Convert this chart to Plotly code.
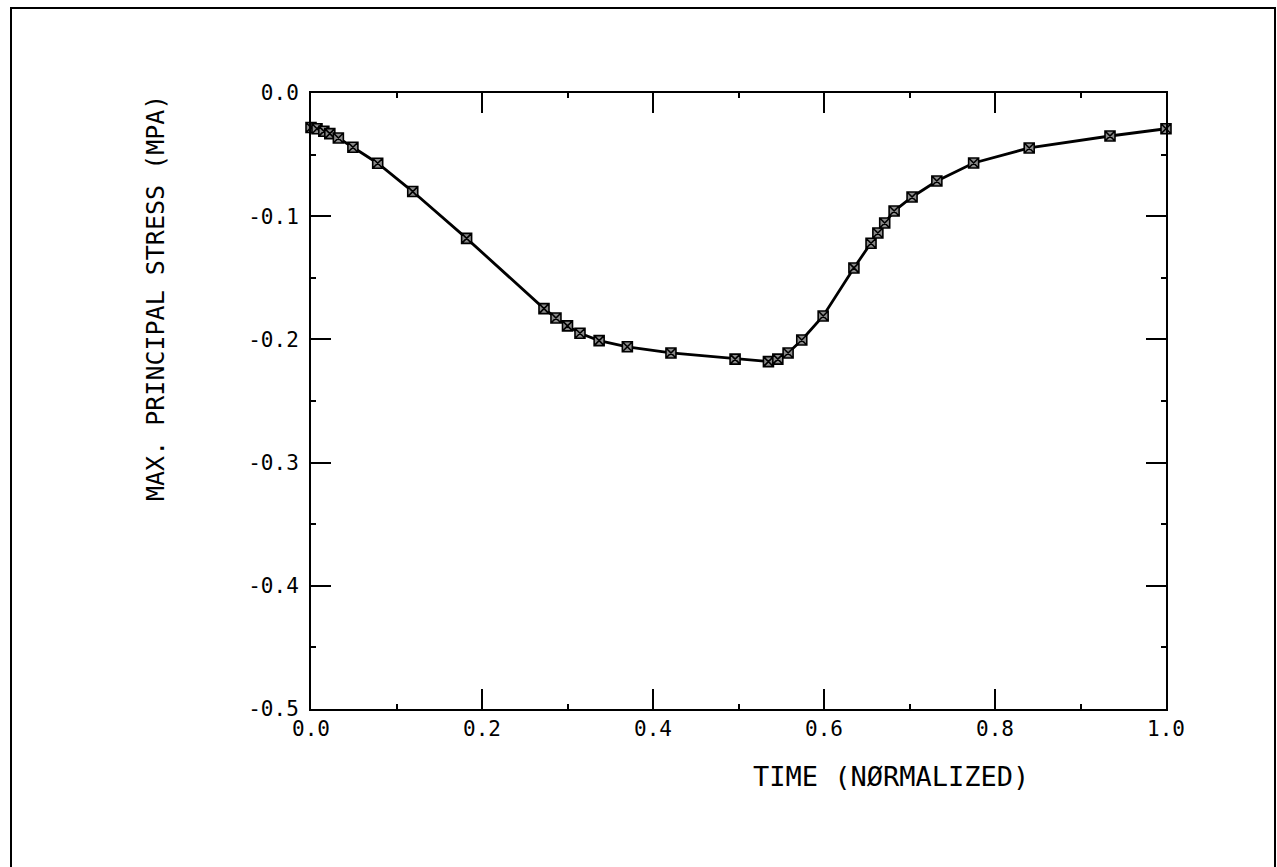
import plotly.graph_objects as go

time_norm = [0.0, 0.007, 0.015, 0.022, 0.032, 0.049, 0.078, 0.119, 0.182,
             0.2725, 0.2865, 0.300, 0.3146, 0.337, 0.370, 0.421, 0.496,
             0.535, 0.546, 0.558, 0.574, 0.599, 0.635, 0.655, 0.663, 0.671,
             0.682, 0.703, 0.732, 0.775, 0.840, 0.9345, 1.0]
stress = [-0.028, -0.029, -0.031, -0.033, -0.0365, -0.044, -0.057, -0.080, -0.118,
          -0.175, -0.1826, -0.189, -0.195, -0.201, -0.206, -0.211, -0.216,
          -0.218, -0.216, -0.211, -0.2005, -0.181, -0.142, -0.122, -0.1136, -0.1055,
          -0.0958, -0.0844, -0.0714, -0.0568, -0.0446, -0.0349, -0.029]

x_ticks = [0.0, 0.2, 0.4, 0.6, 0.8, 1.0]
x_tick_labels = ["0.0", "0.2", "0.4", "0.6", "0.8", "1.0"]
y_ticks = [0.0, -0.1, -0.2, -0.3, -0.4, -0.5]
y_tick_labels = ["0.0", "-0.1", "-0.2", "-0.3", "-0.4", "-0.5"]

x_title = "TIME (NØRMALIZED)"
y_title = "MAX. PRINCIPAL STRESS (MPA)"

W, H = 1277, 867
L, R, T, B = 311, 1166, 93, 709

fig = go.Figure()
fig.add_trace(go.Scatter(
    x=time_norm, y=stress, mode="lines+markers",
    line=dict(color="black", width=2.8),
    marker=dict(symbol="square-x", size=10, color="#8a8a8a",
                line=dict(color="black", width=1.6)),
    showlegend=False, cliponaxis=False,
))

font = "DejaVu Sans Mono"
axis_common = dict(
    showgrid=False, zeroline=False, showline=True, linecolor="black",
    linewidth=2, mirror="allticks", ticks="inside", ticklen=20,
    tickwidth=2, tickcolor="black",
    tickfont=dict(family=font, size=21, color="black"),
)

fig.update_xaxes(range=[0, 1], tickvals=x_ticks, ticktext=x_tick_labels,
                 minor=dict(ticks="inside", ticklen=5, tickwidth=2,
                            tickcolor="black", dtick=0.1, tick0=0),
                 **axis_common)
fig.update_yaxes(range=[-0.5, 0], tickvals=y_ticks, ticktext=y_tick_labels,
                 minor=dict(ticks="inside", ticklen=5, tickwidth=2,
                            tickcolor="black", dtick=0.05, tick0=0),
                 ticklabelstandoff=6,
                 **axis_common)

pw, ph = R - L, B - T
def px_x(p):
    return (p - L) / pw
def px_y(p):
    return (B - p) / ph

fig.add_annotation(text=x_title, xref="paper", yref="paper",
                   x=px_x(891), y=px_y(776), showarrow=False,
                   font=dict(family=font, size=27, color="black"),
                   xanchor="center", yanchor="middle")
fig.add_annotation(text=y_title, xref="paper", yref="paper",
                   x=px_x(155), y=px_y(298), showarrow=False, textangle=-90,
                   font=dict(family=font, size=25, color="black"),
                   xanchor="center", yanchor="middle")

fig.add_shape(type="rect", xref="paper", yref="paper",
              x0=px_x(11), x1=px_x(1275), y0=px_y(875), y1=px_y(8),
              line=dict(color="black", width=2))

fig.update_layout(
    width=W, height=H,
    margin=dict(l=L, r=W - R, t=T, b=H - B),
    paper_bgcolor="white", plot_bgcolor="white",
)

fig.write_html("out.html")
